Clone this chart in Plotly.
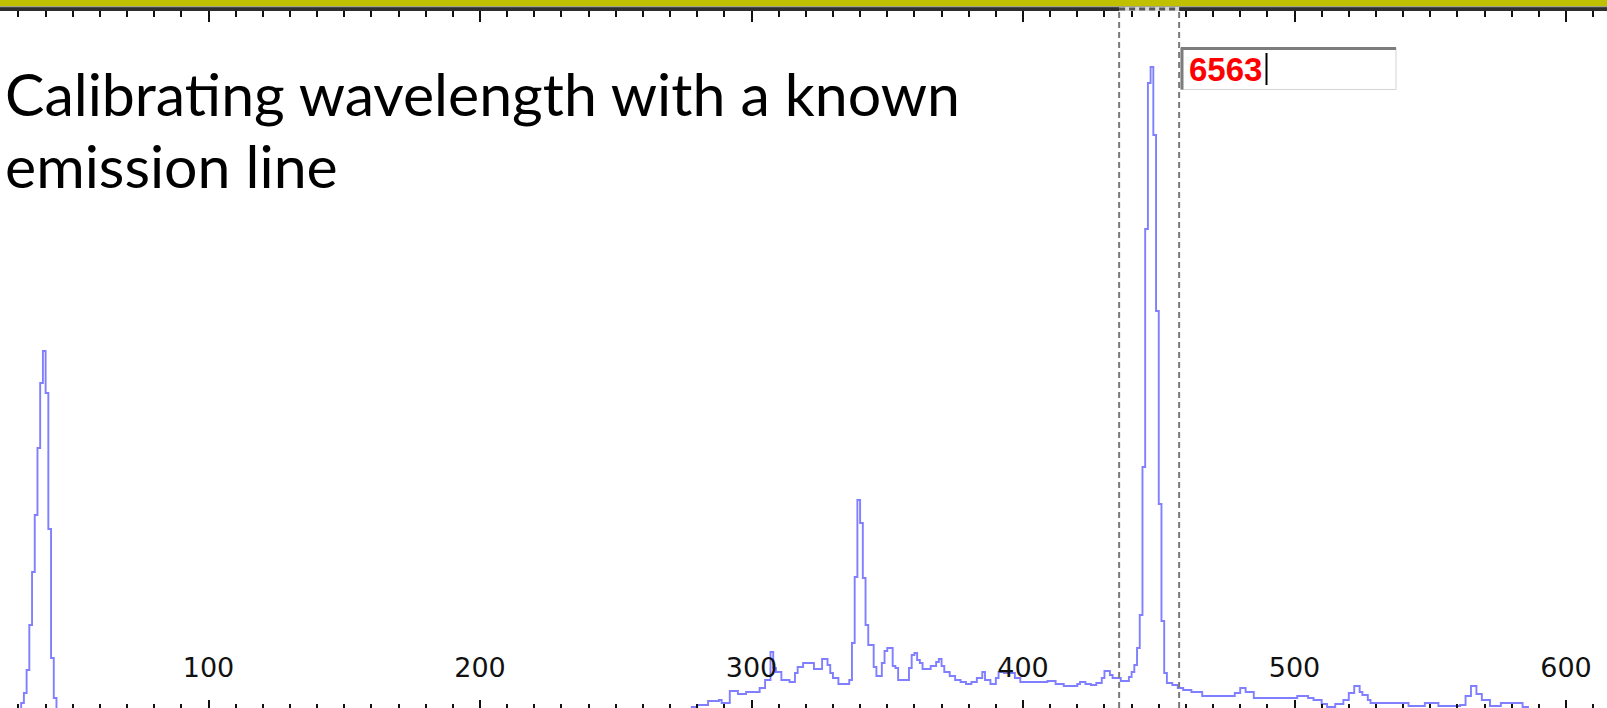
import plotly.graph_objects as go

# ---------------- data ----------------
# detector pixel column (x) where the stepped profile changes level
pixel = [23, 31, 32, 33, 34, 35, 36, 37, 38, 39, 40, 41, 42, 43, 44,
         278, 280, 284, 288, 289, 292, 295, 298, 303, 305, 307, 308, 309,
         311, 314, 316, 317, 319, 323, 326, 328, 329, 330, 332, 336,
         337, 338, 339, 340, 341, 342, 343, 345, 346, 348, 349, 350,
         352, 353, 354, 358, 359, 360, 361, 362, 363, 366, 368, 369,
         370, 371, 373, 375, 377, 379, 381, 383, 385, 386, 388, 390,
         391, 393, 397, 399, 405, 409, 412, 415, 420, 421, 423, 425,
         427, 429, 430, 432, 433, 436, 439, 440, 441, 442, 443, 444,
         445, 446, 447, 448, 449, 450, 451, 452, 453, 455, 457, 459,
         462, 466, 478, 480, 482, 485, 501, 505, 507, 510, 512, 515,
         518, 520, 522, 524, 525, 527, 528, 542, 548, 553, 561, 563,
         565, 567, 569, 572, 576, 584, 586, 615]
intensity = [-4, 5, 15, 38, 83, 136, 193, 260, 325, 357, 315, 179, 50, 10, -4,
             1, 3, 7, 8, 5, 17, 14, 16, 20, 28, 56, 40, 36,
             28, 26, 35, 41, 45, 39, 49, 43, 35, 30, 24, 28,
             65, 131, 208, 185, 130, 83, 63, 41, 32, 45, 57, 60,
             42, 40, 28, 40, 53, 55, 48, 45, 39, 42, 46, 49,
             42, 36, 32, 28, 26, 24, 26, 30, 36, 28, 24, 30,
             36, 35, 30, 26, 26, 27, 24, 22, 24, 26, 24, 23,
             25, 30, 37, 33, 30, 27, 31, 36, 43, 60, 93, 241,
             479, 625, 641, 573, 397, 204, 87, 35, 25, 23, 20, 18,
             16, 12, 15, 20, 16, 10, 12, 10, 8, 4, 1, 4,
             8, 15, 22, 16, 13, 8, 5, 2, 5, 2, 3, 12,
             22, 14, 8, 2, 5, 1, -4, -4]

tick_vals = [100, 200, 300, 400, 500, 600]
tick_labels = ["100", "200", "300", "400", "500", "600"]
x_range = [23.2, 615.1]
selection_bounds = [435.4, 457.5]
entered_wavelength = "6563"
title_lines = ["Calibrating wavelength with a known", "emission line"]

# ---------------- layout helpers ----------------
W, H = 1607, 708
TOP = 11
PH = H - TOP


def px(xp):
    return xp / W


def py(yp):
    return (H - yp) / PH


fig = go.Figure()
fig.add_trace(go.Scatter(
    x=pixel, y=intensity, mode="lines",
    line=dict(color="#7f7fff", width=1.9, shape="hv"),
    hoverinfo="skip", showlegend=False))
# invisible trace so the top ruler axis is drawn
fig.add_trace(go.Scatter(
    x=[pixel[0]], y=[intensity[0]], xaxis="x2", mode="lines",
    line=dict(width=0), hoverinfo="skip", showlegend=False))

tickfont = dict(family="DejaVu Sans", size=27, color="#111111")
fig.update_layout(
    width=W, height=H,
    margin=dict(l=0, r=0, t=TOP, b=0, pad=0),
    paper_bgcolor="white", plot_bgcolor="white",
    showlegend=False,
    xaxis=dict(
        range=x_range, tickmode="array", tickvals=tick_vals, ticktext=tick_labels,
        ticks="inside", ticklen=8, tickwidth=2, tickcolor="#111111",
        ticklabelposition="inside", ticklabelstandoff=20, tickfont=tickfont,
        minor=dict(tickmode="linear", tick0=0, dtick=10, ticks="inside",
                   ticklen=4, tickwidth=2, tickcolor="#111111"),
        showgrid=False, zeroline=False, showline=False, fixedrange=True),
    xaxis2=dict(
        range=x_range, overlaying="x", side="top", matches="x",
        tickmode="array", tickvals=tick_vals, showticklabels=False,
        ticks="inside", ticklen=11, tickwidth=2, tickcolor="#111111",
        minor=dict(tickmode="linear", tick0=0, dtick=10, ticks="inside",
                   ticklen=6, tickwidth=2, tickcolor="#111111"),
        showline=True, linecolor="#2e2e2e", linewidth=4,
        showgrid=False, zeroline=False),
    yaxis=dict(range=[0, PH], visible=False, fixedrange=True),
)

shapes = []
# yellow title bar of the window
shapes.append(dict(type="rect", xref="paper", yref="paper",
                   x0=0, x1=1, y0=py(6.5), y1=py(0),
                   fillcolor="#c0c000", line=dict(width=0), layer="above"))
shapes.append(dict(type="line", xref="paper", yref="paper",
                   x0=0, x1=1, y0=py(6.8), y1=py(6.8),
                   line=dict(color="#8a8a8a", width=1), layer="above"))
# selection bounds (dashed)
for xb in selection_bounds:
    shapes.append(dict(type="line", xref="x", yref="paper",
                       x0=xb, x1=xb, y0=0, y1=py(8),
                       line=dict(color="#7a7a7a", width=2, dash="6px,4px"),
                       layer="above"))
shapes.append(dict(type="line", xref="x", yref="paper",
                   x0=selection_bounds[0], x1=selection_bounds[1],
                   y0=py(9), y1=py(9),
                   line=dict(color="#d8d8d8", width=4), layer="above"))
shapes.append(dict(type="line", xref="x", yref="paper",
                   x0=selection_bounds[0], x1=selection_bounds[1],
                   y0=py(9), y1=py(9),
                   line=dict(color="#555555", width=3, dash="6px,4px"),
                   layer="above"))
# input box
bx0, bx1, by0, by1 = 1181, 1396, 47.5, 89.5
shapes.append(dict(type="rect", xref="paper", yref="paper",
                   x0=px(bx0), x1=px(bx1), y0=py(by1), y1=py(by0),
                   fillcolor="white", line=dict(color="#d4d4d4", width=1),
                   layer="above"))
shapes.append(dict(type="line", xref="paper", yref="paper",
                   x0=px(bx0), x1=px(bx1), y0=py(by0 + 1), y1=py(by0 + 1),
                   line=dict(color="#7c7c7c", width=3), layer="above"))
shapes.append(dict(type="line", xref="paper", yref="paper",
                   x0=px(bx0 + 1), x1=px(bx0 + 1), y0=py(by1), y1=py(by0),
                   line=dict(color="#7c7c7c", width=3), layer="above"))
# text caret
shapes.append(dict(type="line", xref="paper", yref="paper",
                   x0=px(1266.5), x1=px(1266.5), y0=py(85), y1=py(53),
                   line=dict(color="black", width=2), layer="above"))
fig.update_layout(shapes=shapes)

title_font = dict(family="Lato", size=59, color="black")
annotations = [
    dict(text=title_lines[0], xref="paper", yref="paper",
         x=px(3), y=py(93), xanchor="left", yanchor="middle",
         showarrow=False, font=title_font),
    dict(text=title_lines[1], xref="paper", yref="paper",
         x=px(3), y=py(165), xanchor="left", yanchor="middle",
         showarrow=False, font=title_font),
    dict(text="<b>" + entered_wavelength + "</b>", xref="paper", yref="paper",
         x=px(1187), y=py(69), xanchor="left", yanchor="middle",
         showarrow=False,
         font=dict(family="Liberation Sans", size=33, color="#ff0000")),
]
fig.update_layout(annotations=annotations)

fig.write_html("out.html")
